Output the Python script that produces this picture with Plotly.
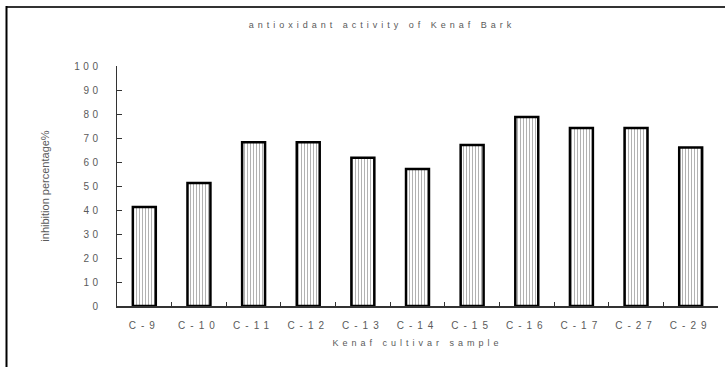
import plotly.graph_objects as go

categories = ["C-9", "C-10", "C-11", "C-12", "C-13", "C-14", "C-15", "C-16", "C-17", "C-27", "C-29"]
inhibition = [41.2, 51.3, 68.2, 68.2, 61.8, 57.1, 67.1, 78.8, 74.2, 74.2, 66.0]
y_ticks = [0, 10, 20, 30, 40, 50, 60, 70, 80, 90, 100]

W, H = 725, 367
L, R, T, B = 117, 7, 66, 61
pw, ph = W - L - R, H - T - B

def px(x):
    return (x - L) / pw

def py(y):
    return (H - B - y) / ph

FONT = "Liberation Sans, Arial, sans-serif"
GRAY = "#5a5a5a"

fig = go.Figure(go.Bar(
    x=categories, y=inhibition,
    marker=dict(
        color="white",
        line=dict(color="black", width=2.5),
        pattern=dict(shape="|", size=3, solidity=0.3, fgcolor="#555555", bgcolor="white"),
    ),
))

fig.update_layout(
    width=W, height=H,
    margin=dict(l=L, r=R, t=T, b=B),
    paper_bgcolor="white", plot_bgcolor="white",
    bargap=0.58,
    showlegend=False,
    font=dict(family=FONT, size=9, color=GRAY),
    title=dict(text="antioxidant activity of Kenaf Bark", x=382 / W, xanchor="center",
               y=1 - 25 / H, yanchor="middle", font=dict(size=9, color=GRAY)),
    xaxis=dict(
        showline=True, linecolor="#333333", linewidth=1.5,
        ticks="inside", ticklen=4, tickcolor="#333333", tickson="boundaries",
        ticklabelstandoff=9,
        tickfont=dict(size=10, color=GRAY),
        title=dict(text="Kenaf cultivar sample", standoff=10, font=dict(size=9, color=GRAY)),
        range=[-0.5, 10.5], fixedrange=True,
    ),
    yaxis=dict(
        range=[0, 100], tickvals=y_ticks,
        showline=True, linecolor="#333333", linewidth=1.5,
        ticks="inside", ticklen=5, tickcolor="#333333",
        showgrid=False, zeroline=False,
        ticklabelstandoff=12,
        tickfont=dict(size=10, color=GRAY),
        title=dict(text="inhibition percentage%", standoff=33, font=dict(size=11, color=GRAY)),
        fixedrange=True,
    ),
    shapes=[
        dict(type="line", xref="paper", yref="paper", x0=px(6), x1=px(W), y0=py(7), y1=py(7),
             line=dict(color="#333333", width=2)),
        dict(type="line", xref="paper", yref="paper", x0=px(6.5), x1=px(6.5), y0=py(6), y1=py(H),
             line=dict(color="black", width=2)),
    ],
)

post = """
document.body.style.margin = '0';
document.body.style.overflow = 'hidden';
document.querySelectorAll('.gtitle, .xtitle').forEach(function(t){
  t.style.letterSpacing = '4px';
});
document.querySelectorAll('.xtick text').forEach(function(t){
  t.style.letterSpacing = '5px';
});
document.querySelectorAll('.ytick text').forEach(function(t){
  t.style.letterSpacing = '3.5px';
});
"""
fig.write_html("out.html", post_script=post, config={"displayModeBar": False, "staticPlot": True})
